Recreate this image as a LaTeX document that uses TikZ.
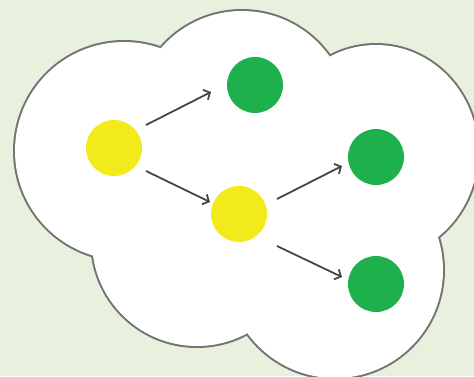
\documentclass[tikz,border=0pt]{standalone}
\usetikzlibrary{arrows.meta,calc}
\definecolor{bg}{RGB}{232,240,222}
\definecolor{edgegray}{RGB}{115,115,115}
\definecolor{arrgray}{RGB}{70,70,70}
\definecolor{ylw}{RGB}{242,234,26}
\definecolor{grn}{RGB}{31,176,78}
\begin{document}
\begin{tikzpicture}[x=1pt,y=-1pt,
  dot/.style={circle,minimum size=56pt,inner sep=0pt,draw=none},
  ydot/.style={dot,fill=ylw},
  gdot/.style={dot,fill=grn},
  arr/.style={draw=arrgray,line width=1.8pt,-{Straight Barb[length=5pt,width=11pt,line width=1.8pt]}},
  lobeedge/.style={draw=edgegray,line width=4pt},
  lobefill/.style={fill=white}]
\useasboundingbox (0,0) rectangle (474,376);
\clip (0,0) rectangle (474,376);
\fill[bg] (0,0) rectangle (474,376);
% cloud
\foreach \cx/\cy/\rx/\ry in {124/151/109/109, 242/118/107/107, 376/152/102/107, 335/270/108/108, 197/241/105/105}
  \draw[lobeedge] (\cx,\cy) ellipse[x radius=\rx pt, y radius=\ry pt];
\foreach \cx/\cy/\rx/\ry in {124/151/109/109, 242/118/107/107, 376/152/102/107, 335/270/108/108, 197/241/105/105}
  \fill[lobefill] (\cx,\cy) ellipse[x radius=\rx pt, y radius=\ry pt];
% nodes
\node[ydot] (y1) at (114,148) {};
\node[ydot] (y2) at (239,214) {};
\node[gdot] (g1) at (255,85) {};
\node[gdot] (g2) at (376,157) {};
\node[gdot] (g3) at (376,284) {};
% arrows
\draw[arr] ($(y1)+(32,-23)$) -- ($(g1)+(-44,7)$);
\draw[arr] ($(y1)+(32,23)$) -- ($(y2)+(-29,-12)$);
\draw[arr] ($(y2)+(38,-15)$) -- ($(g2)+(-34,9)$);
\draw[arr] ($(y2)+(38,32)$) -- ($(g3)+(-34,-7)$);
\end{tikzpicture}
\end{document}
